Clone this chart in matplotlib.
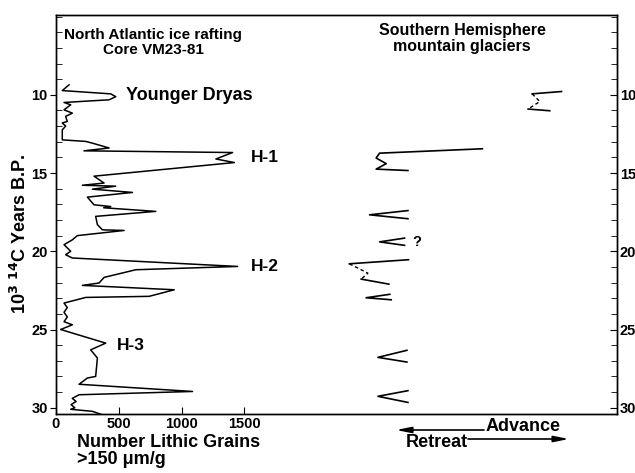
import matplotlib
matplotlib.use("Agg")
import matplotlib.pyplot as plt

plt.rcParams['font.family'] = ['Liberation Sans', 'DejaVu Sans']
plt.rcParams['font.weight'] = 'bold'

# North Atlantic ice rafting, core VM23-81
age = [9.36, 9.73, 9.94, 10.12, 10.32, 10.49, 10.64, 10.96, 11.17, 11.38, 11.7, 11.8,
       12.0, 12.24, 12.88, 12.98, 13.09, 13.4, 13.58, 13.69, 14.1, 14.33, 15.2, 15.64,
       15.78, 15.84, 16.03, 16.24, 16.54, 17.03, 17.14, 17.22, 17.45, 17.77, 18.3, 18.63,
       18.67, 19.0, 19.27, 19.58, 20.0, 20.22, 20.43, 20.97, 21.18, 21.67, 22.03, 22.18,
       22.46, 22.88, 22.95, 23.31, 23.6, 23.9, 24.2, 24.5, 24.7, 25.0, 25.87, 26.3,
       26.82, 28.0, 28.1, 28.5, 28.96, 29.17, 29.4, 29.6, 29.8, 30.0, 30.1, 30.23, 30.45]
grains = [104, 50, 436, 476, 423, 64, 117, 64, 130, 77, 90, 50,
          77, 50, 50, 237, 290, 423, 223, 1407, 1274, 1421, 303, 383,
          210, 476, 290, 609, 250, 303, 436, 380, 795, 316, 330, 370,
          543, 170, 130, 64, 117, 77, 130, 1447, 636, 383, 343, 210,
          942, 742, 237, 64, 90, 64, 90, 64, 130, 37, 396, 276,
          330, 316, 250, 184, 1088, 184, 130, 160, 120, 150, 117, 290, 370]

# Southern Hemisphere mountain glaciers (advance / retreat position)
gl_age = [
    [9.79, 9.94, 10.43, 10.91, 11.02],
    [13.45, 13.73, 14.04, 14.4, 14.75, 14.84],
    [17.4, 17.67, 17.92],
    [19.16, 19.4, 19.62],
    [20.54, 20.8, 21.4, 21.78, 22.1],
    [22.75, 22.97, 23.1],
    [26.33, 26.78, 27.08],
    [28.91, 29.27, 29.66],
]
gl_pos = [
    [4028, 3794, 3855, 3762, 3934],
    [3397, 2578, 2551, 2631, 2551, 2804],
    [2804, 2498, 2804],
    [2777, 2578, 2777],
    [2809, 2338, 2485, 2432, 2652],
    [2660, 2471, 2671],
    [2796, 2565, 2796],
    [2804, 2565, 2804],
]
# which glacier records have an uncertain (dashed) middle part
gl_dashed = {0: (1, 3), 4: (1, 3)}

W, H = 635, 473
fig = plt.figure(figsize=(W / 100, H / 100), dpi=100)
ax = fig.add_axes([56 / W, 1 - 414 / H, (617 - 56) / W, (414 - 15) / H])

ax.plot(grains, age, color='black', lw=1.1)

for i, (a, p) in enumerate(zip(gl_age, gl_pos)):
    if i in gl_dashed:
        s, e = gl_dashed[i]
        ax.plot(p[:s + 1], a[:s + 1], color='black', lw=1.2)
        ax.plot(p[s:e + 1], a[s:e + 1], color='black', lw=1.0, ls=(0, (2.5, 2)))
        ax.plot(p[e:], a[e:], color='black', lw=1.2)
    else:
        ax.plot(p, a, color='black', lw=1.2)

ax.set_xlim(0, 4470)
ax.set_ylim(30.4, 4.9)
ax.set_xticks([0, 500, 1000, 1500])
ax.set_yticks([10, 15, 20, 25, 30])
ax.set_yticks(range(5, 31), minor=True)
ax.tick_params(axis='x', direction='in', length=5, labelsize=10.5, pad=2)
ax.tick_params(axis='y', which='major', direction='out', length=4, labelsize=10.5, pad=2)
ax.tick_params(axis='y', which='minor', direction='in', length=4)

ax2 = ax.twinx()
ax2.set_ylim(ax.get_ylim())
ax2.set_yticks([10, 15, 20, 25, 30])
ax2.set_yticks(range(5, 31), minor=True)
ax2.tick_params(axis='y', which='both', direction='in', length=5, labelsize=10.5, pad=2)
ax2.tick_params(axis='y', which='minor', length=4)

for a in (ax, ax2):
    for sp in a.spines.values():
        sp.set_linewidth(1.0)

# annotations
ax.text(556, 10.05, 'Younger Dryas', fontsize=13, va='center', ha='left')
ax.text(1554, 14.0, 'H-1', fontsize=12.5, va='center', ha='left')
ax.text(1556, 21.0, 'H-2', fontsize=12.5, va='center', ha='left')
ax.text(487, 26.0, 'H-3', fontsize=12.5, va='center', ha='left')
ax.text(2873, 19.4, '?', fontsize=10.5, va='center', ha='center')

ax.text(0.173, 0.932, 'North Atlantic ice rafting\nCore VM23-81', transform=ax.transAxes,
        fontsize=11, ha='center', va='center', linespacing=1.1)
ax.text(0.724, 0.942, 'Southern Hemisphere\nmountain glaciers', transform=ax.transAxes,
        fontsize=11.5, ha='center', va='center', linespacing=1.1)

fig.text(20 / W, 1 - 234 / H, r'10$^{\mathbf{3}}$ $^{\mathbf{14}}$C Years B.P.', rotation=90,
         fontsize=13, ha='center', va='center')
fig.text(77 / W, 1 - 442 / H, 'Number Lithic Grains', fontsize=13, ha='left', va='center')
fig.text(77 / W, 1 - 459 / H, '>150 μm/g', fontsize=13, ha='left', va='center')

# advance / retreat arrows
fig.text(486 / W, 1 - 426 / H, 'Advance', fontsize=13, ha='left', va='center')
fig.text(406 / W, 1 - 442 / H, 'Retreat', fontsize=13, ha='left', va='center')
arrow = dict(arrowstyle='-|>,head_length=0.9,head_width=0.18', color='black', lw=1.2,
             shrinkA=0, shrinkB=0)
fig.add_artist(plt.Annotation('', xy=(396 / W, 1 - 430 / H), xytext=(484 / W, 1 - 430 / H),
                              xycoords='figure fraction', arrowprops=arrow))
fig.add_artist(plt.Annotation('', xy=(569 / W, 1 - 439 / H), xytext=(468 / W, 1 - 439 / H),
                              xycoords='figure fraction', arrowprops=arrow))

fig.savefig('out.png', dpi=100)
